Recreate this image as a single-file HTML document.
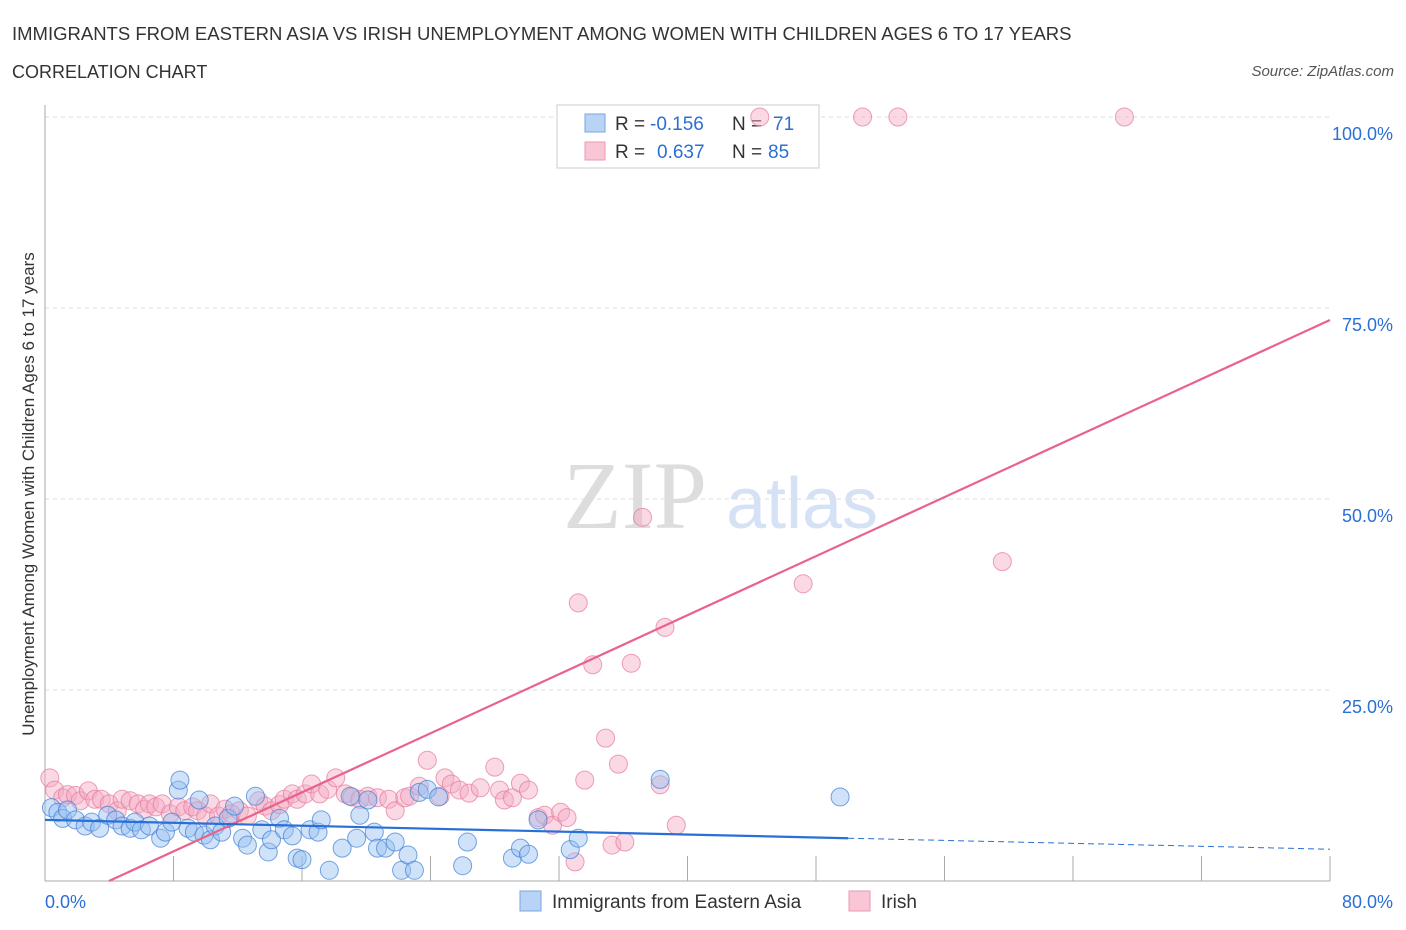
<!DOCTYPE html>
<html><head><meta charset="utf-8"><style>
body{margin:0;background:#fff;font-family:"Liberation Sans",sans-serif}
#c{position:absolute;left:0;top:0}
</style></head><body>
<svg id="c" width="1406" height="930">
<text x="12" y="40" font-size="18.5" fill="#333">IMMIGRANTS FROM EASTERN ASIA VS IRISH UNEMPLOYMENT AMONG WOMEN WITH CHILDREN AGES 6 TO 17 YEARS</text>
<text x="12" y="78" font-size="18" fill="#333">CORRELATION CHART</text>
<text x="1394" y="76" font-size="15" fill="#555" font-style="italic" text-anchor="end">Source: ZipAtlas.com</text>
<text x="635" y="528" font-size="96" fill="#ddd" font-family="Liberation Serif" text-anchor="middle">ZIP</text>
<text x="802" y="528" font-size="72" fill="#d5e2f5" text-anchor="middle">atlas</text>
<g id="grid"></g><g id="axes"></g>
<g>
<rect x="557" y="105" width="262" height="63" fill="#fff" stroke="#ccc"/>
<rect x="585" y="114" width="20" height="18" fill="#b8d3f5" stroke="#7aa7e0"/>
<rect x="585" y="142" width="20" height="18" fill="#f9c6d5" stroke="#eb98b2"/>
<text x="615" y="130" font-size="19" fill="#333">R =</text>
<text x="650" y="130" font-size="19" fill="#2b6fd6">-0.156</text>
<text x="732" y="130" font-size="19" fill="#333">N =</text>
<text x="773" y="130" font-size="19" fill="#2b6fd6">71</text>
<text x="615" y="158" font-size="19" fill="#333">R =</text>
<text x="657" y="158" font-size="19" fill="#2b6fd6">0.637</text>
<text x="732" y="158" font-size="19" fill="#333">N =</text>
<text x="768" y="158" font-size="19" fill="#2b6fd6">85</text>
</g>
<g id="pts"></g><g id="lines"></g>
<text transform="translate(34,494) rotate(-90)" font-size="17" fill="#333" text-anchor="middle">Unemployment Among Women with Children Ages 6 to 17 years</text>
<g>
<rect x="520" y="891" width="21" height="20" fill="#b8d3f5" stroke="#7aa7e0"/>
<text x="552" y="908" font-size="19" fill="#333">Immigrants from Eastern Asia</text>
<rect x="849" y="891" width="21" height="20" fill="#f9c6d5" stroke="#eb98b2"/>
<text x="881" y="908" font-size="19" fill="#333">Irish</text>
</g>
</svg>
<script>
const yTicks=[25,50,75,100];
const xTickLabels=["0.0%","80.0%"];
const blueX=[0.4,0.8,1.1,1.4,1.9,2.5,2.9,3.4,3.9,4.4,4.8,5.3,5.6,6.0,6.5,7.2,7.5,7.9,8.3,8.4,8.9,9.3,9.6,9.9,10.3,10.6,11.0,11.4,11.8,12.3,12.6,13.1,13.5,13.9,14.1,14.6,14.9,15.4,15.7,16.0,16.5,17.0,17.2,17.7,18.5,19.0,19.4,19.6,20.1,20.5,20.7,21.2,21.8,22.2,22.6,23.0,23.3,23.8,24.5,26.0,26.3,29.1,29.6,30.1,30.7,32.7,33.2,38.3,49.5];
const blueY=[9.6,9.0,8.2,9.3,8.0,7.2,7.7,6.9,8.6,8.0,7.2,6.9,7.7,6.7,7.2,5.6,6.4,7.7,11.9,13.2,6.9,6.4,10.6,6.0,5.4,7.2,6.4,8.2,9.8,5.6,4.7,11.1,6.7,3.8,5.4,8.2,6.7,5.9,3.0,2.8,6.7,6.4,8.0,1.4,4.3,11.1,5.6,8.6,10.6,6.4,4.3,4.3,5.1,1.4,3.4,1.4,11.6,12.0,11.0,2.0,5.1,3.0,4.3,3.5,8.0,4.1,5.6,13.3,11.0];
const pinkX=[0.3,0.6,1.1,1.4,1.9,2.2,2.7,3.1,3.5,4.0,4.5,4.8,5.3,5.8,6.2,6.5,6.9,7.3,7.8,8.3,8.7,9.2,9.5,10.0,10.3,10.8,11.2,11.6,12.1,12.6,13.3,13.7,14.1,14.6,14.9,15.4,15.7,16.2,16.6,17.1,17.6,18.1,18.7,19.1,19.6,20.1,20.7,21.4,21.8,22.4,22.7,23.3,23.8,24.6,24.9,25.3,25.8,26.4,27.1,28.0,28.3,28.6,29.1,29.6,30.1,30.7,31.1,31.6,32.1,32.5,33.0,33.2,33.6,34.1,34.9,35.3,35.7,36.1,36.5,37.2,38.3,38.6,39.3,44.5,47.2,50.9,53.1,59.6,67.2];
const pinkY=[13.5,11.9,10.9,11.3,11.2,10.5,11.8,10.7,10.7,10.1,9.2,10.7,10.5,10.1,9.4,10.1,9.7,10.1,8.8,9.7,9.2,9.7,9.2,8.5,10.1,8.5,9.4,8.8,9.2,8.5,10.5,9.8,9.2,10.0,10.7,11.4,10.7,11.4,12.7,11.4,12.0,13.5,11.4,11.0,10.7,11.1,10.9,10.7,9.2,10.9,11.1,12.4,15.8,11.1,13.5,12.7,11.9,11.5,12.2,14.9,11.9,10.6,10.9,12.8,11.9,8.3,8.6,7.3,9.0,8.3,2.5,36.4,13.2,28.3,18.7,4.7,15.3,5.1,28.5,47.6,12.6,33.2,7.3,100,38.9,100,100,41.8,100];
const blueFit=[8.0,-0.048];
const pinkFit=[-3.85,0.966];
const X0=45,X1=1330,Y0=881,Y1=117;
const sx=v=>X0+(v/80)*(X1-X0);
const sy=v=>Y0-(v/100)*(Y0-Y1);
const NS="http://www.w3.org/2000/svg";
function mk(t,a,p){const e=document.createElementNS(NS,t);for(const k in a)e.setAttribute(k,a[k]);p.appendChild(e);return e;}
const grid=document.getElementById('grid'),axes=document.getElementById('axes'),pts=document.getElementById('pts'),lines=document.getElementById('lines');
yTicks.forEach(t=>{
 const l=mk('line',{x1:X0,x2:X1,y1:sy(t),y2:sy(t),stroke:'#ddd','stroke-dasharray':'4,4'},grid);
 
 
 const tx=mk('text',{x:1393,y:sy(t)+23,'font-size':18,fill:'#2b6fd6','text-anchor':'end'},axes);
 tx.textContent=t.toFixed(1)+'%';
 
 
});
const ya=mk('line',{x1:X0,x2:X0,y1:105,y2:Y0,stroke:'#aaa'},axes);


const xa=mk('line',{x1:X0,x2:X1,y1:Y0,y2:Y0,stroke:'#aaa'},axes);


for(let i=1;i<=10;i++){const tk=mk('line',{x1:sx(i*8),x2:sx(i*8),y1:Y0,y2:Y0-25,stroke:'#aaa'},axes);
 
 }
const xl0=mk('text',{x:45,y:908,'font-size':18,fill:'#2b6fd6'},axes);xl0.textContent=xTickLabels[0];


const xl1=mk('text',{x:1393,y:908,'font-size':18,fill:'#2b6fd6','text-anchor':'end'},axes);xl1.textContent=xTickLabels[1];


pinkX.forEach((x,i)=>{const c=mk('circle',{cx:sx(x),cy:sy(pinkY[i]),r:9,fill:'rgba(245,170,195,0.45)',stroke:'rgba(230,120,155,0.7)'},pts);
 
 });
blueX.forEach((x,i)=>{const c=mk('circle',{cx:sx(x),cy:sy(blueY[i]),r:9,fill:'rgba(150,190,240,0.45)',stroke:'rgba(60,125,215,0.7)'},pts);
 
 });
const px0=-pinkFit[0]/pinkFit[1];
const pl=mk('line',{x1:sx(px0),y1:sy(0),x2:sx(80),y2:sy(pinkFit[0]+pinkFit[1]*80),stroke:'#e8628c','stroke-width':2.2},lines);


const bl=mk('line',{x1:sx(0),y1:sy(blueFit[0]),x2:sx(50),y2:sy(blueFit[0]+blueFit[1]*50),stroke:'#2a6fd6','stroke-width':2.2},lines);


const bd=mk('line',{x1:sx(50),y1:sy(blueFit[0]+blueFit[1]*50),x2:sx(80),y2:sy(blueFit[0]+blueFit[1]*80),stroke:'#2a6fd6','stroke-width':1,'stroke-dasharray':'6,4'},lines);


</script>
</body></html>
